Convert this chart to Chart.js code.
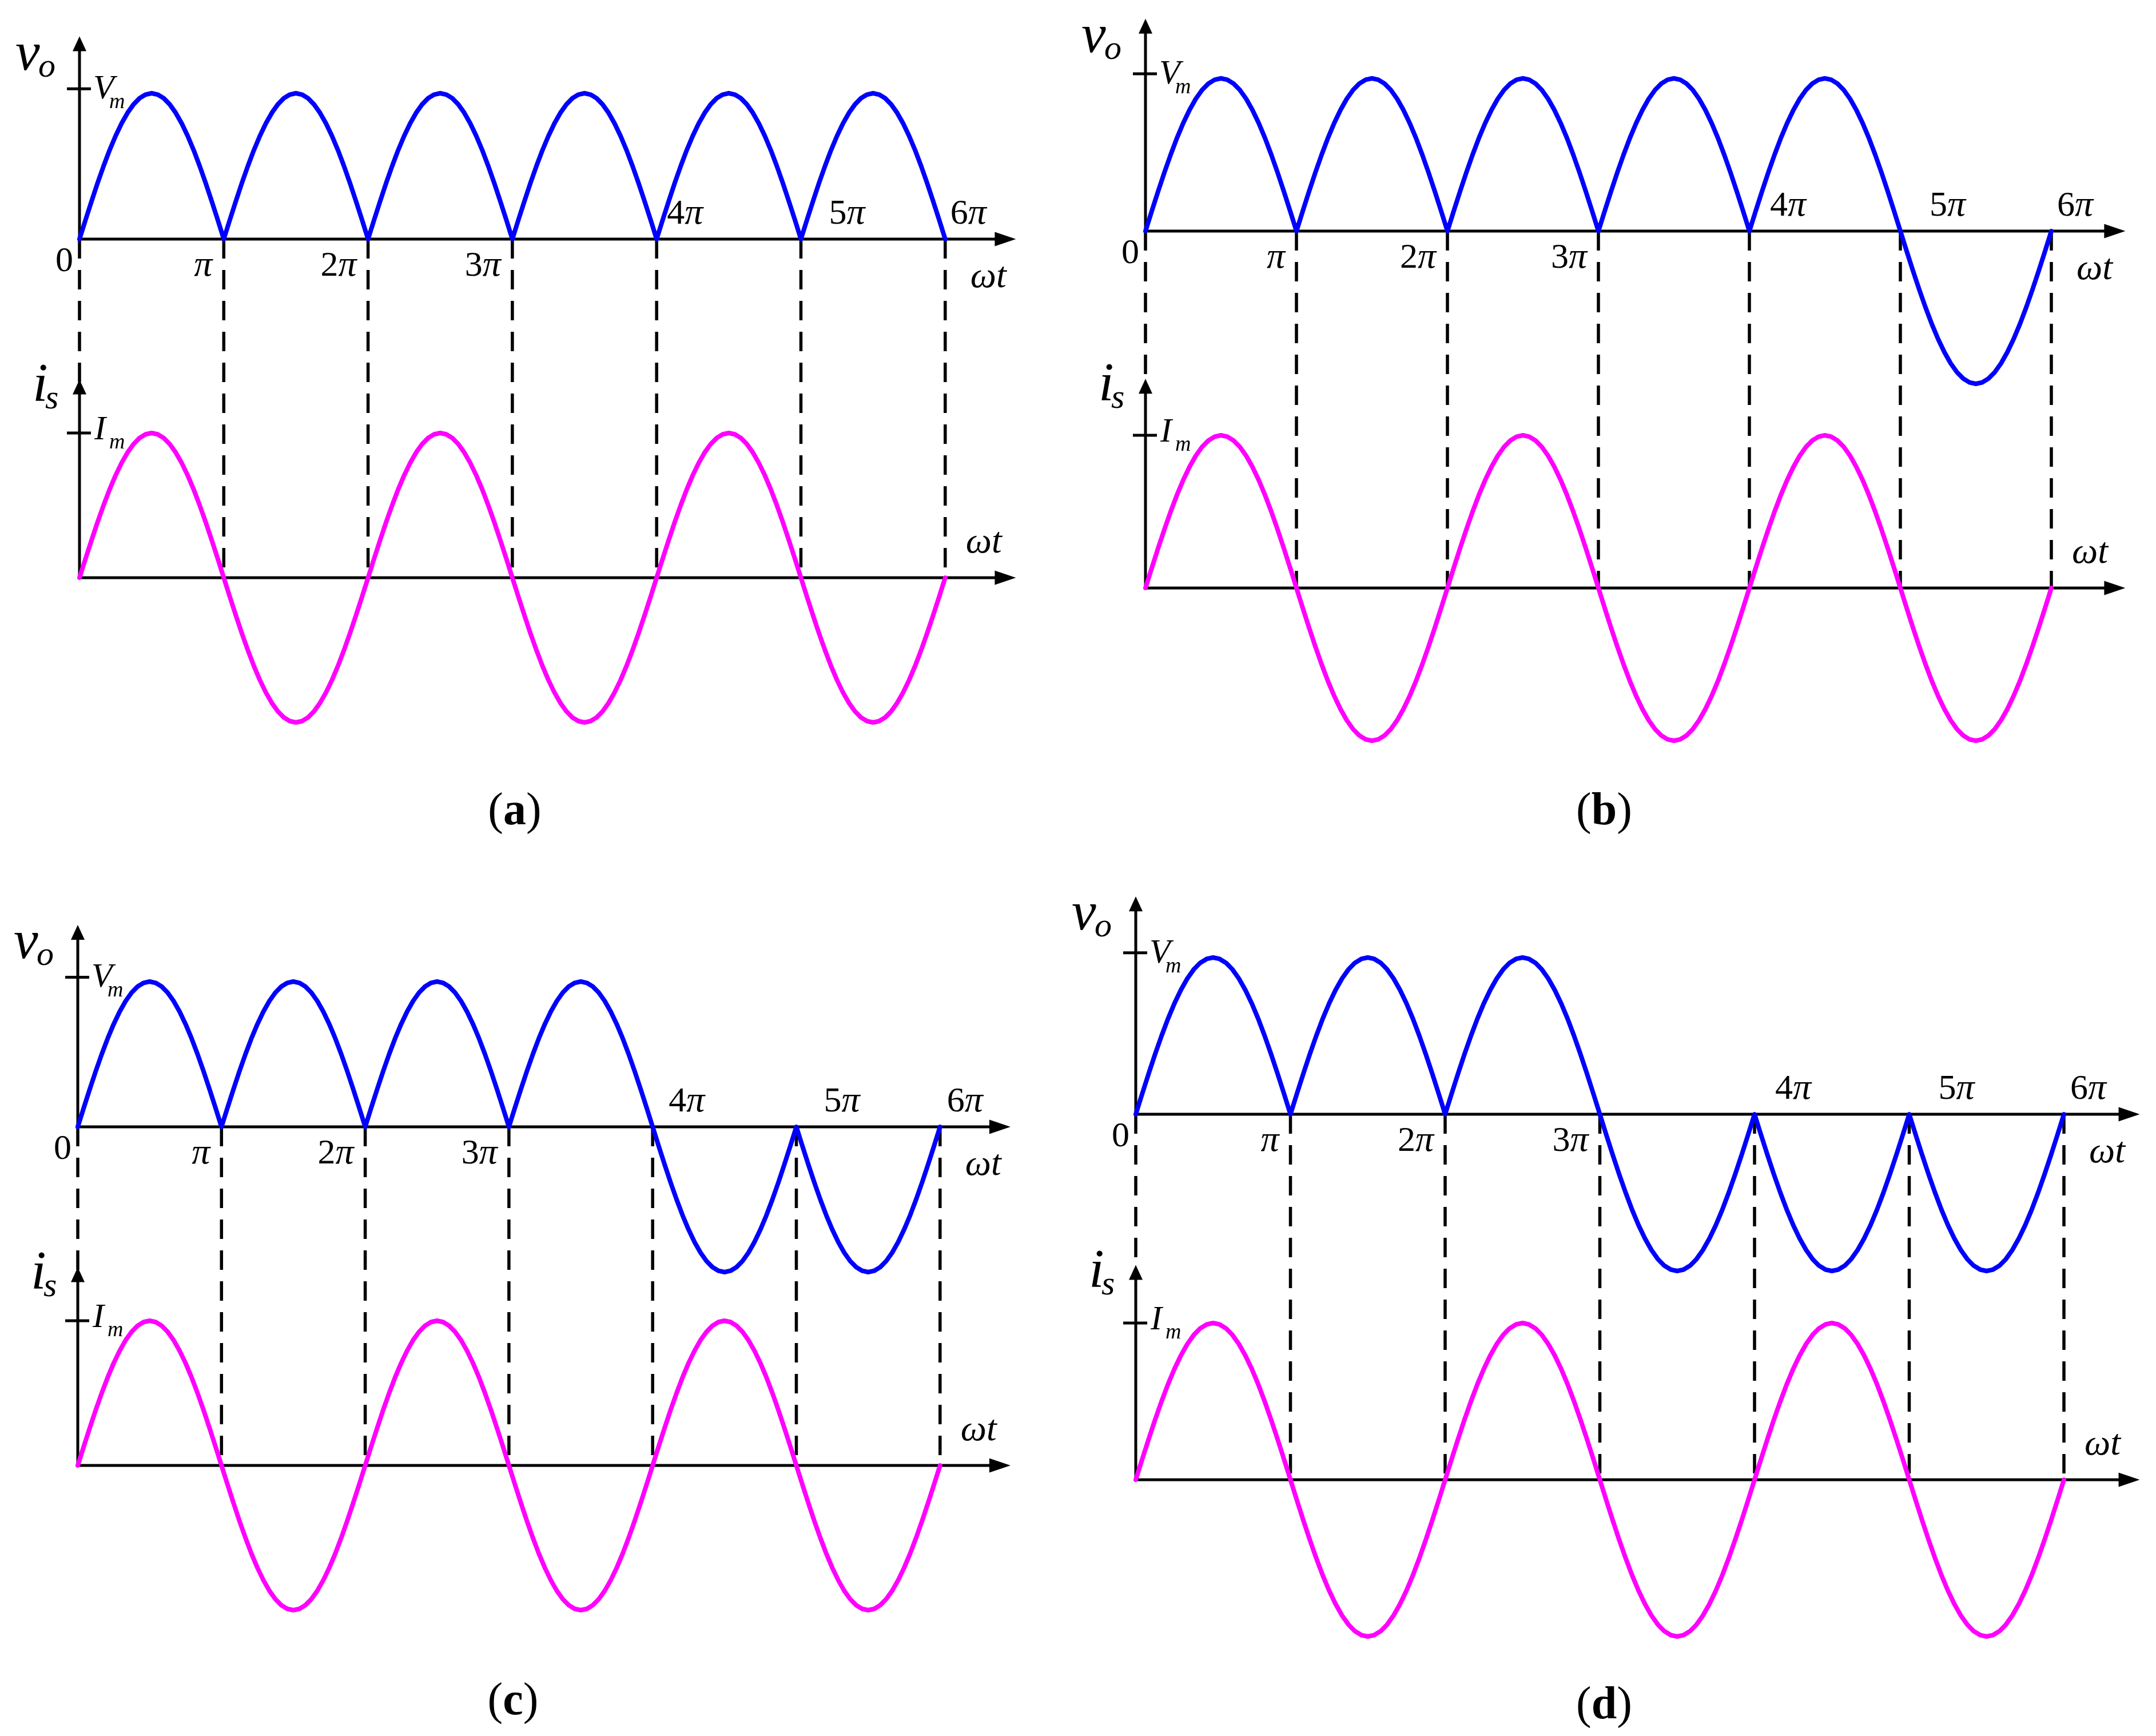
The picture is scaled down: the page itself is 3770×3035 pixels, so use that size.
<!DOCTYPE html>
<html>
<head>
<meta charset="utf-8">
<title>v_o and i_s waveforms</title>
<script src="https://cdn.jsdelivr.net/npm/chart.js@4.4.1/dist/chart.umd.min.js"></script>
<style>
  html, body { margin: 0; padding: 0; background: #fff; }
  canvas { display: block; }
</style>
</head>
<body>
<canvas id="wave" width="3770" height="3035"></canvas>
<script>
/* four panels: output voltage v_o (blue) over source current i_s (magenta) */

// ωt tick marks, in multiples of π
const piTicks = [0, 1, 2, 3, 4, 5, 6];
// one half-cycle of the waveform, read every π/24 (peak = 1)
const halfWave = [0, 0.131, 0.259, 0.383, 0.5, 0.609, 0.707, 0.793, 0.866, 0.924, 0.966, 0.991, 1,
                  0.991, 0.966, 0.924, 0.866, 0.793, 0.707, 0.609, 0.5, 0.383, 0.259, 0.131, 0];
// polarity of v_o in each of the six half-cycles, panels (a)-(d)
const voA = [1, 1, 1, 1, 1, 1];
const voB = [1, 1, 1, 1, 1, -1];
const voC = [1, 1, 1, 1, -1, -1];
const voD = [1, 1, 1, -1, -1, -1];
// i_s is the same sine in every panel
const isWave = [1, -1, 1, -1, 1, -1];
const panelIds = ['a', 'b', 'c', 'd'];

const W = 3770, H = 3035;
const BLUE = '#0000ff', MAGENTA = '#ff00ff';
const SERIF = '"Liberation Serif", "Times New Roman", serif';
const VM_LEVEL = 1.03, IM_LEVEL = 1, V_TIP = 1.39, I_TIP = 1.37, X_TIP = 6.49;

// pixel placement of each panel: origin, px per π, zero lines, px per unit amplitude
const layout = {
  a: { x0: 139,  u: 252.3, vZero: 418,  vAmp: 255, iZero: 1010, iAmp: 253, cap: [900, 1441],  up: [18, 49, 9] },
  b: { x0: 2003, u: 264,   vZero: 404,  vAmp: 267, iZero: 1028, iAmp: 267, cap: [2805, 1441], up: [36, 51, 10] },
  c: { x0: 136,  u: 251.3, vZero: 1970, vAmp: 254, iZero: 2562, iAmp: 253, cap: [897, 2997],  up: [28, 48, 12] },
  d: { x0: 1986, u: 270.5, vZero: 1948, vAmp: 274, iZero: 2587, iAmp: 274, cap: [2805, 3004], up: [36, 51, 11] }
};

function wave(signs) {
  const n = halfWave.length - 1, pts = [];
  signs.forEach((s, j) => {
    halfWave.forEach((v, k) => {
      if (j > 0 && k === 0) return;
      pts.push({ x: j + k / n, y: s * v });
    });
  });
  return pts;
}

const scales = {}, datasets = [];
[voA, voB, voC, voD].forEach((vo, p) => {
  const id = panelIds[p], L = layout[id];
  const hidden = { type: 'linear', display: false, bounds: 'data', grace: 0 };
  scales['x' + id] = { ...hidden, axis: 'x', position: 'bottom', min: -L.x0 / L.u, max: (W - L.x0) / L.u };
  scales['v' + id] = { ...hidden, axis: 'y', position: 'left', min: -(H - L.vZero) / L.vAmp, max: L.vZero / L.vAmp };
  scales['i' + id] = { ...hidden, axis: 'y', position: 'left', min: -(H - L.iZero) / L.iAmp, max: L.iZero / L.iAmp };
  const line = { borderWidth: 8, pointRadius: 0, tension: 0, fill: false, borderJoinStyle: 'round', borderCapStyle: 'round' };
  datasets.push({ ...line, label: 'v_o (' + id + ')', data: wave(vo), xAxisID: 'x' + id, yAxisID: 'v' + id, borderColor: BLUE });
  datasets.push({ ...line, label: 'i_s (' + id + ')', data: wave(isWave), xAxisID: 'x' + id, yAxisID: 'i' + id, borderColor: MAGENTA });
});

function seg(ctx, x1, y1, x2, y2) {
  ctx.beginPath(); ctx.moveTo(x1, y1); ctx.lineTo(x2, y2); ctx.stroke();
}
function tri(ctx, pts) {
  ctx.beginPath(); ctx.moveTo(pts[0], pts[1]); ctx.lineTo(pts[2], pts[3]); ctx.lineTo(pts[4], pts[5]); ctx.closePath(); ctx.fill();
}
function text(ctx, s, x, y, font) {
  ctx.font = font; ctx.fillText(s, x, y); return ctx.measureText(s).width;
}
// "kπ": digit upright, π italic
function piLabel(ctx, k, x, y, alignRight) {
  const fDigit = '62px ' + SERIF, fPi = 'italic 64px ' + SERIF;
  const digit = k === 0 ? '0' : (k === 1 ? '' : String(k));
  ctx.font = fDigit; const dw = ctx.measureText(digit).width;
  ctx.font = fPi; const pw = k === 0 ? 0 : ctx.measureText('π').width;
  let left = alignRight ? x - dw - pw : x;
  if (digit) left += text(ctx, digit, left, y, fDigit);
  if (k > 0) text(ctx, 'π', left, y, fPi);
}

const decor = {
  id: 'decor',
  beforeDatasetsDraw(chart) {
    const ctx = chart.ctx;
    panelIds.forEach(id => {
      const xs = chart.scales['x' + id], vs = chart.scales['v' + id], is = chart.scales['i' + id];
      const X = v => xs.getPixelForValue(v);
      const x0 = X(0), xEnd = X(X_TIP);
      const vz = vs.getPixelForValue(0), iz = is.getPixelForValue(0);
      const vTip = vs.getPixelForValue(V_TIP), iTip = is.getPixelForValue(I_TIP);
      ctx.save();
      ctx.strokeStyle = '#000'; ctx.fillStyle = '#000';
      // dashed drop lines at every multiple of π
      ctx.lineWidth = 5.5; ctx.setLineDash([34, 20]);
      piTicks.forEach(k => seg(ctx, X(k), vz, X(k), k === 0 ? iTip + 6 : iz));
      ctx.setLineDash([]);
      // axes with arrowheads
      ctx.lineWidth = 5;
      [vz, iz].forEach(y => {
        seg(ctx, x0, y, xEnd - 20, y);
        tri(ctx, [xEnd, y, xEnd - 37, y - 12.5, xEnd - 37, y + 12.5]);
      });
      [[vz, vTip], [iz, iTip]].forEach(([z, t]) => {
        seg(ctx, x0, z, x0, t + 14);
        tri(ctx, [x0, t, x0 - 12, t + 26, x0 + 12, t + 26]);
      });
      // V_m and I_m marks
      const vm = vs.getPixelForValue(VM_LEVEL), im = is.getPixelForValue(IM_LEVEL);
      seg(ctx, x0 - 22, vm, x0 + 20, vm);
      seg(ctx, x0 - 22, im, x0 + 20, im);
      ctx.restore();
    });
  },
  afterDatasetsDraw(chart) {
    const ctx = chart.ctx;
    panelIds.forEach(id => {
      const L = layout[id];
      const xs = chart.scales['x' + id], vs = chart.scales['v' + id], is = chart.scales['i' + id];
      const X = v => xs.getPixelForValue(v);
      const x0 = X(0);
      const vz = vs.getPixelForValue(0), iz = is.getPixelForValue(0);
      const vTip = vs.getPixelForValue(V_TIP), iTip = is.getPixelForValue(I_TIP);
      const vm = vs.getPixelForValue(VM_LEVEL), im = is.getPixelForValue(IM_LEVEL);
      ctx.save();
      ctx.fillStyle = '#000'; ctx.textBaseline = 'alphabetic'; ctx.textAlign = 'left';
      // axis names
      text(ctx, 'v', x0 - 112, vTip + 58, 'italic 96px ' + SERIF);
      text(ctx, 'o', x0 - 72, vTip + 70, 'italic 60px ' + SERIF);
      text(ctx, 'i', x0 - 82, iTip + 38, 'italic 96px ' + SERIF);
      text(ctx, 's', x0 - 60, iTip + 51, 'italic 60px ' + SERIF);
      text(ctx, 'V', x0 + 24, vm + 17, 'italic 60px ' + SERIF);
      text(ctx, 'm', x0 + 52, vm + 34, 'italic 38px ' + SERIF);
      text(ctx, 'I', x0 + 26, im + 11, 'italic 60px ' + SERIF);
      text(ctx, 'm', x0 + 52, im + 27, 'italic 38px ' + SERIF);
      // ωt tick labels: 0..3π under the axis, 4π..6π above it
      piTicks.forEach(k => {
        if (k === 0) piLabel(ctx, 0, x0 - 11, vz + 56, true);
        else if (k <= 3) piLabel(ctx, k, X(k) - 20, vz + 64, true);
        else piLabel(ctx, k, X(k) + L.up[k - 4], vz - 27, false);
      });
      const x6 = X(piTicks[piTicks.length - 1]);
      text(ctx, 'ωt', x6 + 44, vz + 84, 'italic 64px ' + SERIF);
      text(ctx, 'ωt', x6 + 36, iz - 44, 'italic 64px ' + SERIF);
      // caption "(a)" with bold letter
      ctx.font = '80px ' + SERIF; const pw = ctx.measureText('(').width;
      ctx.font = 'bold 80px ' + SERIF; const lw = ctx.measureText(id).width;
      let cx = L.cap[0] - (2 * pw + lw) / 2;
      cx += text(ctx, '(', cx, L.cap[1], '80px ' + SERIF);
      cx += text(ctx, id, cx, L.cap[1], 'bold 80px ' + SERIF);
      text(ctx, ')', cx, L.cap[1], '80px ' + SERIF);
      ctx.restore();
    });
  }
};

new Chart(document.getElementById('wave'), {
  type: 'line',
  data: { datasets },
  options: {
    responsive: false,
    devicePixelRatio: 1,
    animation: false,
    layout: { padding: 0 },
    plugins: { legend: { display: false }, tooltip: { enabled: false }, title: { display: false } },
    scales
  },
  plugins: [decor]
});
</script>
</body>
</html>
